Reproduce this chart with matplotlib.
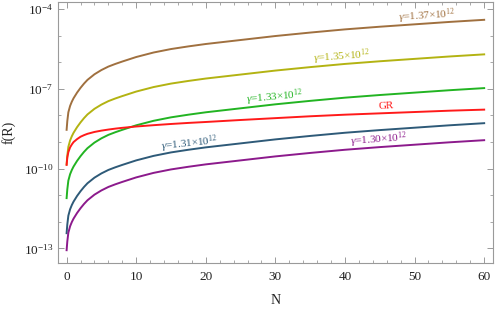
import matplotlib
matplotlib.use("Agg")
import matplotlib.pyplot as plt
from matplotlib.ticker import FixedLocator, MultipleLocator, NullFormatter
import numpy as np

plt.rcParams['font.family'] = ['Liberation Serif', 'DejaVu Serif']
plt.rcParams['mathtext.fontset'] = 'custom'
plt.rcParams['mathtext.rm'] = 'Liberation Serif'
plt.rcParams['mathtext.it'] = 'Liberation Serif:italic'

# sample points along N
N = [0, 0.1, 0.25, 0.5, 0.75, 1, 1.5, 2, 2.5, 3, 4, 5, 6, 7, 8, 10,
     12.5, 15, 17.5, 20, 25, 30, 35, 40, 45, 50, 55, 60]

# log10 f(R) for each curve
log_g137 = [-8.54, -8.21, -7.88, -7.64, -7.48, -7.35, -7.14, -6.96, -6.80, -6.66,
            -6.45, -6.29, -6.16, -6.06, -5.97, -5.80, -5.63, -5.50, -5.40, -5.31,
            -5.16, -5.01, -4.88, -4.76, -4.66, -4.57, -4.48, -4.40]
log_g135 = [-9.84, -9.51, -9.18, -8.94, -8.78, -8.65, -8.44, -8.26, -8.10, -7.96,
            -7.75, -7.59, -7.46, -7.36, -7.27, -7.10, -6.93, -6.80, -6.70, -6.61,
            -6.46, -6.31, -6.18, -6.06, -5.96, -5.87, -5.78, -5.70]
log_g133 = [-11.11, -10.78, -10.45, -10.21, -10.05, -9.92, -9.71, -9.53, -9.37, -9.23,
            -9.02, -8.86, -8.73, -8.63, -8.54, -8.37, -8.20, -8.07, -7.97, -7.88,
            -7.73, -7.58, -7.45, -7.33, -7.23, -7.14, -7.05, -6.97]
log_gr = [-9.86, -9.58, -9.38, -9.20, -9.09, -9.00, -8.89, -8.80, -8.74, -8.69,
          -8.62, -8.57, -8.53, -8.495, -8.465, -8.415, -8.365, -8.32, -8.28, -8.245,
          -8.17, -8.10, -8.03, -7.97, -7.92, -7.87, -7.82, -7.78]
log_g131 = [-12.43, -12.10, -11.77, -11.53, -11.37, -11.24, -11.03, -10.85, -10.69, -10.55,
            -10.34, -10.18, -10.05, -9.95, -9.86, -9.69, -9.52, -9.39, -9.29, -9.20,
            -9.05, -8.90, -8.77, -8.65, -8.55, -8.46, -8.37, -8.29]
log_g130 = [-13.07, -12.74, -12.41, -12.17, -12.01, -11.88, -11.67, -11.49, -11.33, -11.19,
            -10.98, -10.82, -10.69, -10.59, -10.50, -10.33, -10.16, -10.03, -9.93, -9.84,
            -9.69, -9.54, -9.41, -9.29, -9.19, -9.10, -9.01, -8.93]

curves = [
    (log_g137, '#a0703f', "$γ$=1.37×10$^{12}$", 51.8, -4.25, 3.5),
    (log_g135, '#b3b312', "$γ$=1.35×10$^{12}$", 39.6, -5.79, 4),
    (log_g133, '#22b422', "$γ$=1.33×10$^{12}$", 29.9, -7.30, 5),
    (log_gr, '#ff1a1a', "GR", 45.9, -7.64, 3),
    (log_g131, '#2e5a78', "$γ$=1.31×10$^{12}$", 17.6, -9.06, 6),
    (log_g130, '#8c1a8c', "$γ$=1.30×10$^{12}$", 44.9, -8.91, 4),
]

fig = plt.figure(figsize=(4.95, 3.09), dpi=100)
ax = fig.add_axes([0.117, 0.149, 0.878, 0.8445])

for vals, col, lab, tx, ty, rot in curves:
    ax.plot(N, 10 ** np.array(vals), color=col, lw=1.4)
    ax.text(tx, 10 ** ty, lab, color=col, fontsize=8, rotation=rot,
            ha='center', va='center')

ax.set_yscale('log')
ax.set_xlim(-1.25, 61.2)
ax.set_ylim(10 ** -13.55, 10 ** -3.73)

ax.xaxis.set_major_locator(MultipleLocator(10))
ax.xaxis.set_minor_locator(MultipleLocator(2))
ax.yaxis.set_major_locator(FixedLocator([1e-13, 1e-10, 1e-7, 1e-4]))
ax.yaxis.set_minor_locator(FixedLocator([10.0 ** k for k in range(-14, -3)]))
ax.yaxis.set_minor_formatter(NullFormatter())

for sp in ax.spines.values():
    sp.set_color('#9a9a9a')
    sp.set_linewidth(0.8)
ax.tick_params(which='both', direction='in', top=True, right=True,
               color='#9a9a9a', labelsize=9.5, labelcolor='#222222')
ax.tick_params(which='major', length=4, width=0.7)
ax.tick_params(which='minor', length=2.5, width=0.6)
ax.tick_params(axis='x', pad=6)

ax.set_xlabel('N', fontsize=10, color='#222222', labelpad=8)
ax.set_ylabel('f(R)', fontsize=10, color='#222222', labelpad=6)

fig.savefig('out.png', dpi=100)
